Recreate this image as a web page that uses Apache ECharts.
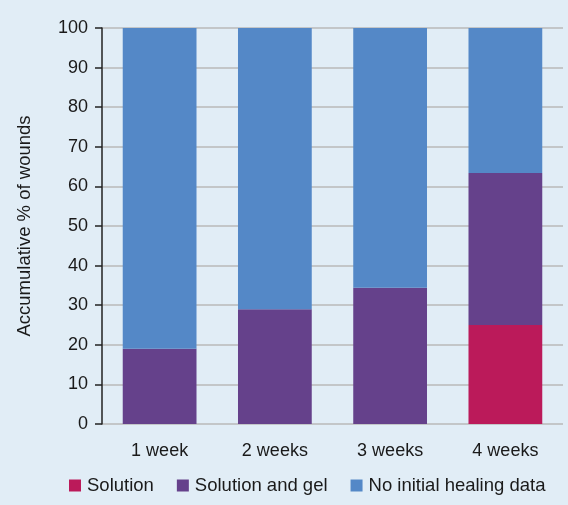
<!DOCTYPE html>
<html>
<head>
<meta charset="utf-8">
<script src="https://cdn.jsdelivr.net/npm/echarts@6/dist/echarts.min.js"></script>
<style>
  html, body { margin: 0; padding: 0; background: #e1edf6; }
  #chart { width: 568px; height: 505px; }
</style>
</head>
<body>
<div id="chart"></div>
<script>
// 数据
var categories = ['1 week', '2 weeks', '3 weeks', '4 weeks'];
var solution = [0, 0, 0, 25];
var solutionGel = [19, 29, 34.4, 38.4];
var noData = [81, 71, 65.6, 36.6];

var myChart = echarts.init(document.getElementById('chart'));
var font = 'Liberation Sans, Arial, sans-serif';

myChart.setOption({
  backgroundColor: '#e1edf6',
  animation: false,
  grid: { left: 102, right: 5, top: 28, bottom: 81 },
  legend: {
    bottom: 10,
    left: 69,
    padding: 0,
    itemWidth: 12,
    itemHeight: 12,
    itemGap: 23,
    icon: 'rect',
    textStyle: { fontFamily: font, fontSize: 18.5, color: '#1a1a1a', padding: [0, 0, 0, 1] }
  },
  xAxis: {
    type: 'category',
    data: categories,
    axisLine: { show: false },
    axisTick: { show: false },
    axisLabel: { fontFamily: font, fontSize: 18, color: '#1a1a1a', margin: 18 }
  },
  yAxis: {
    type: 'value',
    min: 0,
    max: 100,
    interval: 10,
    name: 'Accumulative % of wounds',
    nameLocation: 'middle',
    nameGap: 68,
    nameTextStyle: { fontFamily: font, fontSize: 18.5, color: '#1a1a1a' },
    axisLine: { show: true, lineStyle: { color: '#222', width: 1.5 } },
    axisTick: { show: true, length: 7, lineStyle: { color: '#222', width: 1.5 } },
    axisLabel: { fontFamily: font, fontSize: 18, color: '#1a1a1a', margin: 14 },
    splitLine: { lineStyle: { color: '#b8b8b8', width: 1.5 } }
  },
  series: [
    {
      name: 'Solution', type: 'bar', stack: 'a', barWidth: '64%',
      itemStyle: { color: '#bb1a5a' }, data: solution
    },
    {
      name: 'Solution and gel', type: 'bar', stack: 'a', barWidth: '64%',
      itemStyle: { color: '#65418b' }, data: solutionGel
    },
    {
      name: 'No initial healing data', type: 'bar', stack: 'a', barWidth: '64%',
      itemStyle: { color: '#5488c7' }, data: noData
    }
  ]
});
</script>
</body>
</html>
